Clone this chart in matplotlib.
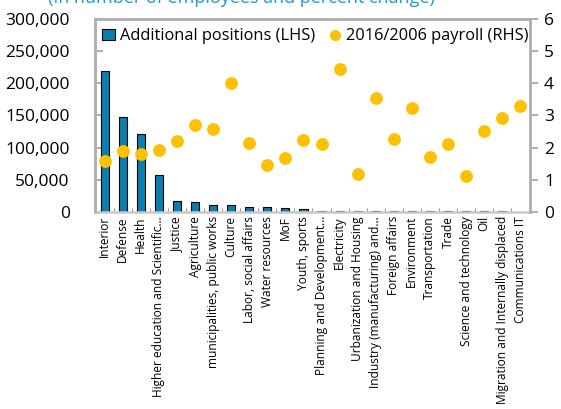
import numpy as np
import matplotlib.pyplot as plt
from matplotlib.lines import Line2D
from matplotlib.patches import Patch

plt.rcParams['font.family'] = ['Open Sans', 'DejaVu Sans']

categories = ['Interior', 'Defense', 'Health', 'Higher education and Scientific\u2026',
              'Justice', 'Agriculture', 'municipalities, public works', 'Culture',
              'Labor, social affairs', 'Water resources', 'MoF', 'Youth, sports',
              'Planning and Development\u2026', 'Electricity', 'Urbanization and Housing',
              'Industry (manufacturing) and\u2026', 'Foreign affairs', 'Environment',
              'Transportation', 'Trade', 'Science and technology', 'Oil',
              'Migration and Internally displaced', 'Communications IT']
positions = [219000, 147000, 121500, 57500, 16700, 15100, 11400, 10400, 8300, 6800,
             6600, 5000, 2000, 1800, 1700, 1600, 1500, 1400, 1300, 1100, 1000, 800, 600, 400]
payroll = [1.58, 1.89, 1.81, 1.92, 2.21, 2.71, 2.57, 4.02, 2.15, 1.45, 1.66, 2.24,
           2.10, 4.43, 1.17, 3.53, 2.26, 3.24, 1.71, 2.10, 1.11, 2.52, 2.91, 3.29]

bar_col = '#0A7FAD'
dot_col = '#FFC000'
grey = '#B0B0B0'

fig = plt.figure(figsize=(5.61, 4.09), dpi=100)
ax = fig.add_axes([0.169, 0.482, 0.776, 0.472])
ax2 = ax.twinx()

x = np.arange(len(categories))
ax.bar(x, positions, width=0.45, color=bar_col, edgecolor='black', linewidth=0.8, zorder=2)
ax2.scatter(x, payroll, s=85, color=dot_col, zorder=3, linewidths=0)

ax.set_xlim(-0.55, len(categories) - 0.45)
ax.set_ylim(0, 300000)
ax2.set_ylim(0, 6)
ax.set_yticks(np.arange(0, 300001, 50000))
ax.set_yticklabels([f'{v:,}' for v in range(0, 300001, 50000)], fontsize=12.5)
ax2.set_yticks(range(7))
ax2.set_yticklabels([str(v) for v in range(7)], fontsize=12.5)

ax.set_xticks(x)
ax.set_xticklabels(categories, rotation=90, fontsize=8.6)
ax.set_xticks(x[:-1] + 0.5, minor=True)
ax.tick_params(axis='x', which='major', length=0, pad=3)
ax.tick_params(axis='x', which='minor', direction='in', length=3, color='#808080')
ax.tick_params(axis='y', direction='in', length=6, color=grey, width=1.5, pad=18)
ax2.tick_params(axis='y', direction='out', length=6, color=grey, width=1.5, pad=4)

for a in (ax, ax2):
    for s in a.spines.values():
        s.set_color(grey)
        s.set_linewidth(1.8)
ax2.spines['bottom'].set_visible(False)
ax.spines['bottom'].set_color('#C8C8C8')

handles = [Patch(facecolor=bar_col, edgecolor='black', linewidth=0.8),
           Line2D([], [], marker='o', linestyle='none', color=dot_col, markersize=7)]
ax2.legend(handles, ['Additional positions (LHS)', '2016/2006 payroll (RHS)'],
           loc='upper left', bbox_to_anchor=(-0.01, 1.01), frameon=False, fontsize=11.8,
           handlelength=0.8, handletextpad=0.3, columnspacing=0.8, ncol=2,
           borderaxespad=0.3)

fig.text(0.43, 1.005, '(In number of employees and percent change)', color='#1A9AD6',
         fontsize=13, ha='center', va='center')

fig.savefig('out.png', dpi=100)
